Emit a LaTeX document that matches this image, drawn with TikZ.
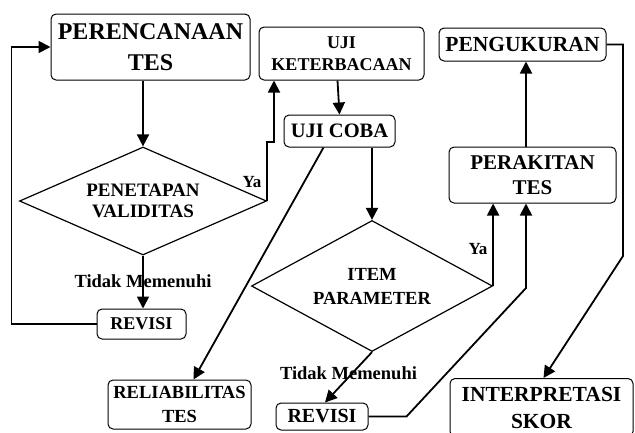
\documentclass[tikz,border=0pt]{standalone}
\usepackage{fontspec}
\setmainfont{Liberation Serif}
\usetikzlibrary{arrows.meta, shapes.geometric}

\newcommand{\bsize}[2]{\bfseries\fontsize{#1}{#2}\selectfont}

\tikzset{
    box/.style={draw, line width=1pt, rounded corners=5pt, fill=white, align=center, inner sep=0pt},
    decision/.style={draw, diamond, line width=1.2pt, align=center, inner sep=0pt},
    flow/.style={line width=1.8pt, -{Triangle[length=12pt,width=12pt]}},
    link/.style={line width=1.2pt}
}

\begin{document}
\begin{tikzpicture}[x=1pt, y=-1pt]
        \useasboundingbox (0,0) rectangle (635,432);

        % Boxes
        \node[box, minimum width=199pt, minimum height=66pt, font=\bsize{24}{31}] (plan) at (150.5,47) {PERENCANAAN\\TES};
        \node[box, minimum width=165pt, minimum height=53pt, font=\bsize{18}{22}] (baca) at (341.5,53.5) {UJI\\KETERBACAAN};
        \node[box, minimum width=167pt, minimum height=33pt, font=\bsize{21.5}{25}] (ukur) at (522.5,44.5) {PENGUKURAN};
        \node[box, minimum width=111pt, minimum height=32pt, font=\bsize{20.5}{25}] (coba) at (339.5,131) {UJI COBA};
        \node[box, minimum width=167pt, minimum height=56pt, font=\bsize{21}{25}] (rakit) at (532.5,175) {PERAKITAN\\TES};
        \node[box, minimum width=89pt, minimum height=30pt, font=\bsize{18}{22}] (revA) at (141.5,324) {REVISI};
        \node[box, minimum width=143pt, minimum height=49pt, font=\bsize{18.5}{24}] (rel) at (179.5,404.5) {RELIABILITAS\\TES};
        \node[box, minimum width=92pt, minimum height=27pt, font=\bsize{20}{24}] (revB) at (322,416.5) {REVISI};
        \node[box, minimum width=183pt, minimum height=58pt, font=\bsize{21.5}{27}] (interp) at (541.5,407.5) {INTERPRETASI\\SKOR};

        % Decisions
        \node[decision, aspect=2.3, minimum width=247pt, minimum height=108pt, font=\bsize{19}{21}] (valid) at (143,201) {PENETAPAN\\VALIDITAS};
        \node[decision, aspect=1.85, minimum width=241pt, minimum height=131pt, font=\bsize{18.5}{24}] (item) at (372,286) {ITEM\\PARAMETER};

        % Labels
        \node[font=\bsize{17}{20}] (yaA) at (252,182) {Ya};
        \node[font=\bsize{17}{20}] (yaB) at (478,249) {Ya};
        \node[font=\bsize{18.5}{21}] (tidakA) at (143,281) {Tidak Memenuhi};
        \node[font=\bsize{18.5}{21}] (tidakB) at (348.5,373) {Tidak Memenuhi};

        % Bends
        \coordinate (jogA) at (274,142);
        \coordinate (bendB) at (526,288);
        \coordinate (bendC) at (623,256);

        % Arrows
        \draw[flow] (valid.north |- plan.south) -- (valid.north);
        \draw[flow] (valid.east) |- (jogA) -- (jogA |- baca.south);
        \draw[flow] (valid.south) -- (valid.south |- revA.north);
        \draw[flow] (revA.west) -- ++(-85,0) |- (plan.west);
        \draw[flow] ([xshift=-4pt]baca.south) -- (coba.north);
        \draw[flow] (coba.south -| item.north) -- (item.north);
        \draw[flow] ([xshift=-16pt]coba.south) -- ([xshift=14pt]rel.north);
        \draw[flow] (item.east) -- (item.east |- rakit.south);
        \draw[flow] (item.south) -- ([xshift=3pt]revB.north);
        \draw[flow] (revB.east) -- ++(38,0) -- (bendB) -- (bendB |- rakit.south);
        \draw[flow] (rakit.north -| bendB) -- (ukur.south -| bendB);
        \draw[flow] (ukur.east) -| (bendC) -- ([xshift=2pt]interp.north);
\end{tikzpicture}
\end{document}
